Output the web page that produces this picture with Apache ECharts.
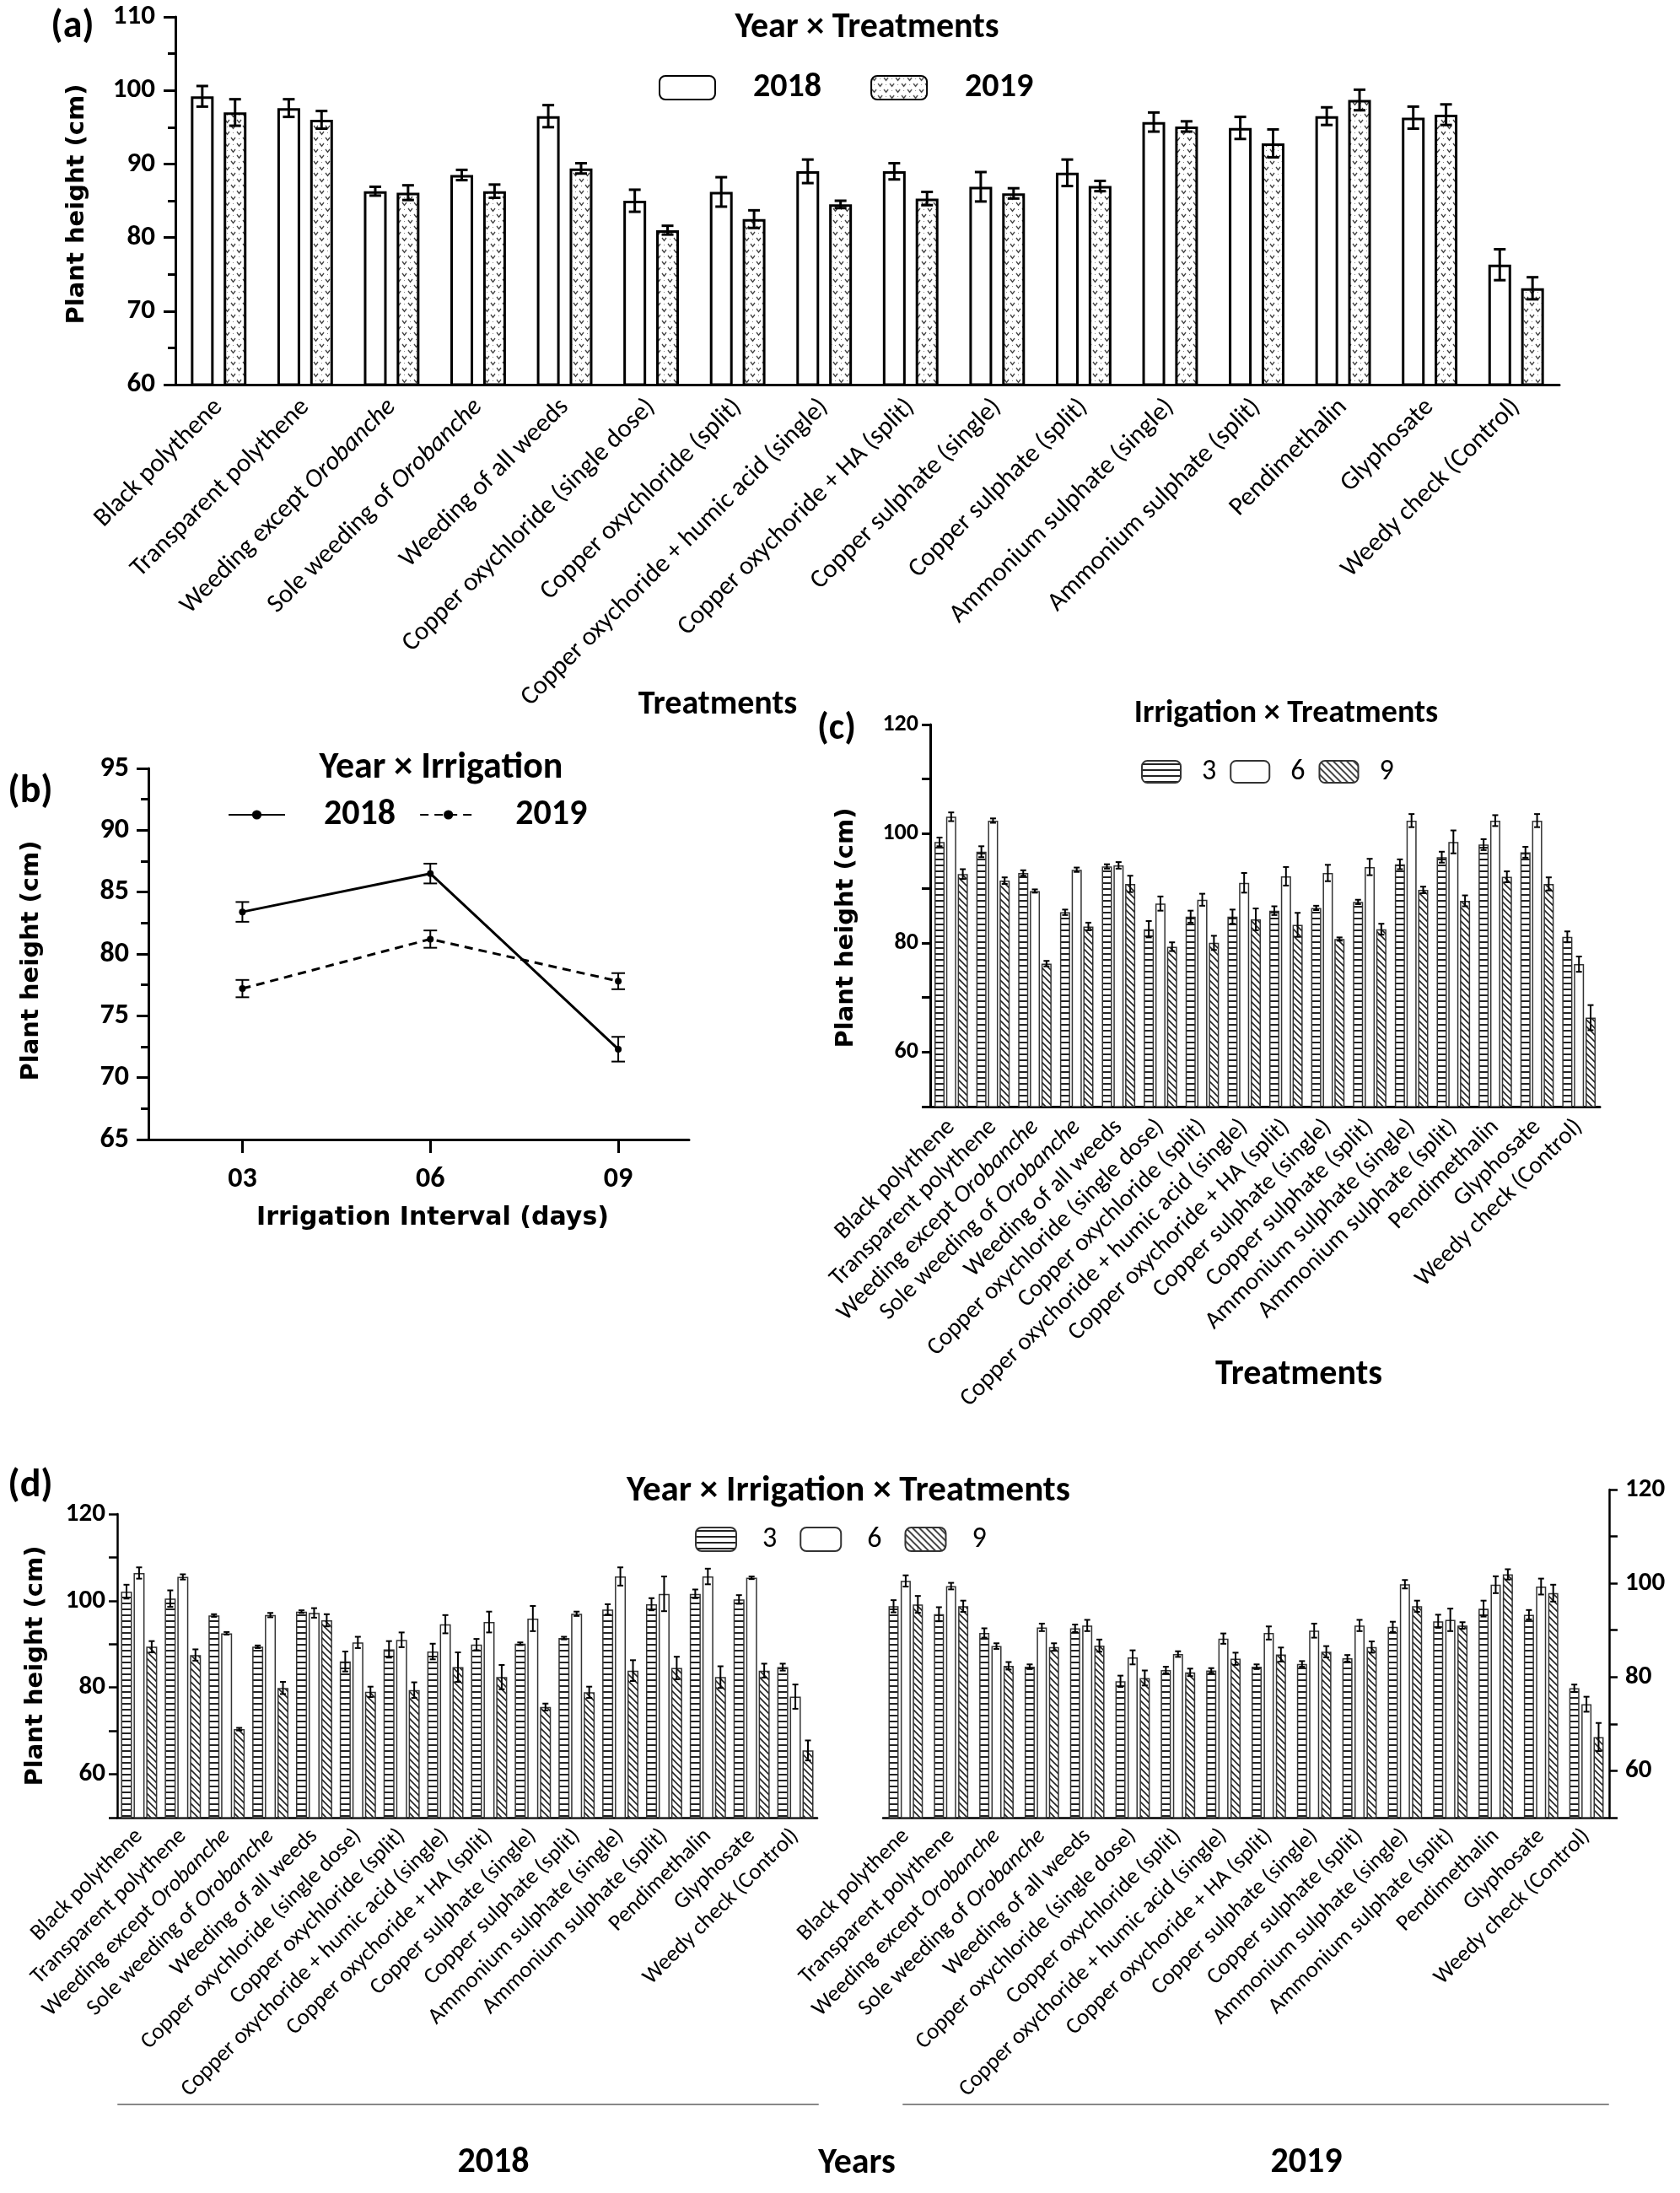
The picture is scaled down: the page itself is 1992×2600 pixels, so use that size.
<!DOCTYPE html>
<html><head><meta charset="utf-8">
<script src="https://cdn.jsdelivr.net/npm/echarts@6/dist/echarts.min.js"></script>
<style>html,body{margin:0;padding:0;background:#fff}#c{width:1992px;height:2600px}</style>
</head><body><div id="c"></div>
<script>
// ---------------- DATA ----------------
const treatments = ['Black polythene','Transparent polythene','Weeding except Orobanche','Sole weeding of Orobanche','Weeding of all weeds','Copper oxychloride (single dose)','Copper oxychloride (split)','Copper oxychoride + humic acid (single)','Copper oxychoride + HA (split)','Copper sulphate (single)','Copper sulphate (split)','Ammonium sulphate (single)','Ammonium sulphate (split)','Pendimethalin','Glyphosate','Weedy check (Control)'];
const years = ['2018','2019'];
// (a) Year x Treatments
const a2018 = [99.2,97.6,86.3,88.5,96.5,85.0,86.2,89.0,89.0,86.9,88.8,95.7,94.9,96.5,96.3,76.3];
const a2018Err = [1.4,1.2,0.6,0.7,1.5,1.5,2.0,1.6,1.1,2.0,1.8,1.3,1.5,1.2,1.5,2.1];
const a2019 = [97.0,96.0,86.1,86.3,89.4,81.0,82.5,84.5,85.3,86.0,87.0,95.1,92.8,98.7,96.7,73.1];
const a2019Err = [1.8,1.2,1.0,0.9,0.7,0.6,1.2,0.5,0.9,0.7,0.7,0.7,1.9,1.4,1.4,1.5];
// (b) Year x Irrigation
const irrigDays = [3,6,9];
const irrigLabels = ['03','06','09'];
const b2018 = [83.4,86.5,72.3];
const b2018Err = [0.8,0.8,1.0];
const b2019 = [77.2,81.2,77.8];
const b2019Err = [0.7,0.7,0.65];
// (c) Irrigation x Treatments
const irrigLevels = ['3','6','9'];
const c3 = [98.5,96.7,92.8,85.6,94.0,82.5,84.8,84.8,85.9,86.4,87.5,94.4,95.7,98.0,96.6,81.1];
const c6 = [103.1,102.4,89.5,93.4,94.2,87.2,87.9,91.0,92.2,92.8,93.9,102.4,98.5,102.4,102.4,76.1];
const c9 = [92.6,91.4,76.2,83.0,90.8,79.3,80.0,84.3,83.3,80.7,82.5,89.7,87.7,92.1,90.8,66.3];
const c3Err = [0.8,1.0,0.5,0.5,0.4,1.5,1.1,1.3,0.8,0.4,0.4,0.9,1.0,1.0,1.0,1.0];
const c6Err = [0.8,0.4,0.3,0.4,0.6,1.3,1.1,1.8,1.7,1.5,1.5,1.2,2.1,1.0,1.2,1.4];
const c9Err = [0.9,0.6,0.5,0.7,1.5,0.8,1.3,2.0,2.2,0.3,1.0,0.6,1.0,1.0,1.2,2.3];
// (d) Year x Irrigation x Treatments
const d2018_3 = [102.1,100.5,96.6,89.4,97.5,86.0,88.8,88.3,89.9,90.1,91.4,98.0,99.2,101.6,100.3,84.7];
const d2018_6 = [106.4,105.5,92.5,96.7,97.2,90.4,91.0,94.6,95.1,95.9,97.0,105.6,101.6,105.6,105.3,77.9];
const d2018_9 = [89.4,87.5,70.4,79.9,95.5,79.0,79.4,84.7,82.4,75.5,78.9,83.9,84.5,82.4,83.9,65.5];
const d2018_3Err = [1.6,1.9,0.3,0.3,0.3,2.3,1.9,1.8,1.3,0.3,0.3,1.2,1.4,1.0,1.0,0.8];
const d2018_6Err = [1.3,0.6,0.3,0.5,1.1,1.3,1.7,2.1,2.4,2.9,0.5,2.1,4.0,1.8,0.3,2.8];
const d2018_9Err = [1.3,1.3,0.3,1.4,1.4,1.2,1.8,3.4,2.8,0.8,1.3,2.4,2.6,2.5,1.6,2.3];
const d2019_3 = [95.1,93.4,89.4,82.2,90.4,79.1,81.5,81.4,82.2,82.8,84.0,90.7,91.9,94.6,93.3,77.6];
const d2019_6 = [100.5,99.4,86.6,90.6,91.0,84.2,84.9,88.2,89.4,89.9,91.0,99.8,92.2,99.7,99.3,74.2];
const d2019_9 = [95.5,95.1,82.4,86.4,86.7,79.8,81.0,83.9,84.8,85.4,86.4,95.1,91.0,101.9,97.9,67.2];
const d2019_3Err = [1.3,1.5,1.0,0.5,0.8,1.2,0.7,0.5,0.5,0.6,0.7,1.1,1.4,1.7,1.0,0.8];
const d2019_6Err = [1.2,0.7,0.6,0.8,1.2,1.5,0.6,1.1,1.4,1.5,1.2,0.9,2.4,1.8,1.7,1.6];
const d2019_9Err = [1.8,1.2,0.8,0.8,1.3,1.6,0.8,1.3,1.5,1.2,1.2,1.2,0.7,1.1,1.8,3.0];

// ---------------- FONTS ----------------
function hasFont(f){
  const g=document.createElement('canvas').getContext('2d');
  const t='Black polythene 0123 WMmi';
  g.font='40px monospace'; const a=g.measureText(t).width;
  g.font='40px "'+f+'", monospace'; const b=g.measureText(t).width;
  return Math.abs(a-b)>0.5;
}
const FN = ['Carlito','Liberation Sans Narrow'].find(hasFont) || 'Liberation Sans';
const K = FN==='Carlito' ? 1 : (FN==='Liberation Sans Narrow' ? 1.04 : 0.86);
const s = n => Math.round(n*K);
const FW = 'DejaVu Sans';

// ---------------- PATTERNS ----------------
function mk(w,h,draw){const c=document.createElement('canvas');c.width=w;c.height=h;const g=c.getContext('2d');g.fillStyle='#fff';g.fillRect(0,0,w,h);draw(g);return c;}
const patH = mk(8,7,g=>{g.fillStyle='#222';g.fillRect(0,3,8,2);});
const patD = mk(8,8,g=>{g.strokeStyle='#222';g.lineWidth=1.6;g.beginPath();g.moveTo(-2,-2);g.lineTo(10,10);g.moveTo(-2,6);g.lineTo(2,10);g.moveTo(6,-2);g.lineTo(10,2);g.stroke();});
const patV = mk(14,14,g=>{g.strokeStyle='#444';g.lineWidth=1.3;const v=(x,y)=>{g.beginPath();g.moveTo(x-2.5,y-2);g.lineTo(x,y+1.5);g.lineTo(x+2.5,y-2);g.stroke();};v(3.5,4);v(10.5,11);g.fillStyle='#888';g.fillRect(10,3,1,1);g.fillRect(3,10,1,1);});
const P = c => ({image:c, repeat:'repeat'});

// ---------------- HELPERS ----------------
const labelFmt = v => v.replace('Orobanche','{i|Orobanche}');
function catAxis(gi, fs, tickLen, lw){
  return {type:'category', gridIndex:gi, data:treatments, boundaryGap:true,
    axisLine:{lineStyle:{color:'#000', width:lw}},
    axisTick:{alignWithLabel:true, length:tickLen, lineStyle:{color:'#000', width:lw}},
    axisLabel:{interval:0, rotate:45, margin:tickLen+6, color:'#000', fontFamily:FN, fontSize:s(fs), formatter:labelFmt,
      rich:{i:{fontStyle:'italic', fontFamily:FN, fontSize:s(fs), color:'#000'}}},
    splitLine:{show:false}};
}
function valAxis(gi, min, max, interval, fs, margin, lw, opts){
  return Object.assign({type:'value', gridIndex:gi, min, max, interval,
    axisLine:{show:true, lineStyle:{color:'#000', width:lw}},
    axisTick:{show:true, length:14, lineStyle:{color:'#000', width:lw}},
    axisLabel:{color:'#000', fontFamily:FN, fontWeight:'bold', fontSize:s(fs), margin},
    splitLine:{show:false}}, opts||{});
}
function bracketAxis(gi, label, shift){
  return {type:'category', gridIndex:gi, data:[label], position:'bottom',
    axisLine:{lineStyle:{color:'#888', width:2}}, axisTick:{length:9, lineStyle:{color:'#888', width:2}},
    axisLabel:{margin:48, color:'#000', fontFamily:FN, fontWeight:'bold', fontSize:s(42), padding:[0,0,0,shift]}};
}
function errSeries(xi, yi, vals, errs, idx, n, bw, gap, cap, lw, xs){
  return {type:'custom', xAxisIndex:xi, yAxisIndex:yi, z:5, silent:true,
    encode:{x:0, y:1},
    data: vals.map((v,i)=>[xs ? xs[i] : i, v, errs[i]]),
    renderItem(params, api){
      const x0=api.value(0), v=api.value(1), e=api.value(2);
      const off=(idx-(n-1)/2)*bw*(1+gap);
      const t=api.coord([x0, v+e]), b=api.coord([x0, v-e]);
      const x=t[0]+off;
      const st={stroke:'#000', lineWidth:lw};
      return {type:'group', children:[
        {type:'line', shape:{x1:x,y1:t[1],x2:x,y2:b[1]}, style:st},
        {type:'line', shape:{x1:x-cap,y1:t[1],x2:x+cap,y2:t[1]}, style:st},
        {type:'line', shape:{x1:x-cap,y1:b[1],x2:x+cap,y2:b[1]}, style:st}]};
    }};
}
function bar(name, xi, yi, data, color, bw, gap, bc, bwid){
  return {name, type:'bar', xAxisIndex:xi, yAxisIndex:yi, data, barWidth:bw, barGap:gap,
    itemStyle:{color, borderColor:bc, borderWidth:bwid}, emphasis:{disabled:true}};
}
function txt(text, x, y, size, family, weight, rot){
  return {type:'text', x, y, rotation:rot||0, style:{text, fill:'#000', fontSize:size, fontFamily:family, fontWeight:weight||'normal', align:'center', verticalAlign:'middle'}};
}

// ---------------- OPTION ----------------
const lg = (data, left, top, iw, ih, gap, fs, pad, bold) => ({data, left, top, itemWidth:iw, itemHeight:ih, itemGap:gap, selectedMode:false,
  formatter: n => n.slice(1), textStyle:{fontFamily:FN, fontWeight:bold?'bold':'normal', fontSize:s(fs), color:'#000', padding:[0,0,0,pad]}});

const cLab = v => (v%20===0 && v>=60) ? String(v) : '';
const option = {
  animation:false, backgroundColor:'#fff',
  grid:[
    {left:208, top:20, width:1641, height:436, outerBoundsMode:'none'},
    {left:176, top:911, width:641, height:440, outerBoundsMode:'none'},
    {left:1103, top:859, width:794, height:453, outerBoundsMode:'none'},
    {left:139, top:1795, width:830, height:360, outerBoundsMode:'none'},
    {left:1047, top:1766, width:861, height:389, outerBoundsMode:'none'},
    {left:140, top:2494, width:830, height:1, outerBoundsMode:'none'},
    {left:1071, top:2494, width:836, height:1, outerBoundsMode:'none'}
  ],
  xAxis:[
    catAxis(0, 31, 16, 3),
    {type:'value', gridIndex:1, min:1.5, max:10.13,
      axisLine:{lineStyle:{color:'#000', width:3}},
      axisTick:{customValues:irrigDays, length:16, lineStyle:{color:'#000', width:3}},
      axisLabel:{customValues:irrigDays, formatter:v=>irrigLabels[irrigDays.indexOf(v)], margin:30, color:'#000', fontFamily:FN, fontWeight:'bold', fontSize:s(34)},
      splitLine:{show:false}},
    catAxis(2, 29, 14, 3),
    catAxis(3, 27, 12, 2.5),
    catAxis(4, 27, 12, 2.5),
    bracketAxis(5, years[0], 60),
    bracketAxis(6, years[1], 120)
  ],
  yAxis:[
    valAxis(0, 60, 110, 10, 33, 24, 3, {minorTick:{show:true, splitNumber:2, length:9, lineStyle:{color:'#000', width:3}}}),
    valAxis(1, 65, 95, 5, 34, 23, 3, {minorTick:{show:true, splitNumber:2, length:9, lineStyle:{color:'#000', width:3}}}),
    valAxis(2, 50, 120, 10, 28, 14, 3, {axisTick:{show:true, length:10, lineStyle:{color:'#000', width:3}}, axisLabel:{color:'#000', fontFamily:FN, fontWeight:'bold', fontSize:s(28), margin:14, formatter:cLab}}),
    valAxis(3, 50, 120, 10, 31, 14, 2.5, {axisTick:{show:true, length:10, lineStyle:{color:'#000', width:2.5}}, axisLabel:{color:'#000', fontFamily:FN, fontWeight:'bold', fontSize:s(31), margin:14, formatter:cLab}}),
    valAxis(4, 50, 120, 10, 31, 19, 2.5, {position:'right', axisTick:{show:true, length:10, lineStyle:{color:'#000', width:2.5}}, axisLabel:{color:'#000', fontFamily:FN, fontWeight:'bold', fontSize:s(31), margin:19, formatter:cLab}}),
    {type:'value', gridIndex:5, show:false},
    {type:'value', gridIndex:6, show:false}
  ],
  legend:[
    lg(['a2018','a2019'], 776, 79, 66, 28, 58, 40, 40, true),
    lg(['b2018','b2019'], 265, 940, 67, 14, 28, 42, 41, true),
    lg(['c3','c6','c9'], 1348, 893, 46, 26, 16, 34, 20, false),
    lg(['d3','d6','d9'], 819, 1803, 48, 28, 27, 34, 26, false)
  ],
  series:[
    // (a)
    bar('a2018', 0, 0, a2018, '#fff', 27, '44%', '#000', 3),
    bar('a2019', 0, 0, a2019, P(patV), 27, '44%', '#000', 3),
    errSeries(0,0,a2018,a2018Err,0,2,27,0.44,7,3),
    errSeries(0,0,a2019,a2019Err,1,2,27,0.44,7,3),
    // (b)
    {name:'b2018', type:'line', xAxisIndex:1, yAxisIndex:1, data:irrigDays.map((d,i)=>[d,b2018[i]]),
      symbol:'circle', symbolSize:8, itemStyle:{color:'#000'}, lineStyle:{color:'#000', width:3, type:'solid'}},
    {name:'b2019', type:'line', xAxisIndex:1, yAxisIndex:1, data:irrigDays.map((d,i)=>[d,b2019[i]]),
      symbol:'circle', symbolSize:8, itemStyle:{color:'#000'}, lineStyle:{color:'#000', width:3, type:[10,7]}},
    errSeries(1,1,b2018,b2018Err,0,1,0,0,8,2,irrigDays),
    errSeries(1,1,b2019,b2019Err,0,1,0,0,8,2,irrigDays),
    // (c)
    bar('c3', 2, 2, c3, P(patH), 12, '15%', '#333', 1.5),
    bar('c6', 2, 2, c6, '#fff', 12, '15%', '#333', 1.5),
    bar('c9', 2, 2, c9, P(patD), 12, '15%', '#333', 1.5),
    errSeries(2,2,c3,c3Err,0,3,12,0.15,3.5,2),
    errSeries(2,2,c6,c6Err,1,3,12,0.15,3.5,2),
    errSeries(2,2,c9,c9Err,2,3,12,0.15,3.5,2),
    // (d) 2018
    bar('d3', 3, 3, d2018_3, P(patH), 13, '15%', '#333', 1.5),
    bar('d6', 3, 3, d2018_6, '#fff', 13, '15%', '#333', 1.5),
    bar('d9', 3, 3, d2018_9, P(patD), 13, '15%', '#333', 1.5),
    errSeries(3,3,d2018_3,d2018_3Err,0,3,13,0.15,3.5,2),
    errSeries(3,3,d2018_6,d2018_6Err,1,3,13,0.15,3.5,2),
    errSeries(3,3,d2018_9,d2018_9Err,2,3,13,0.15,3.5,2),
    // (d) 2019
    bar('d3', 4, 4, d2019_3, P(patH), 12, '20%', '#333', 1.5),
    bar('d6', 4, 4, d2019_6, '#fff', 12, '20%', '#333', 1.5),
    bar('d9', 4, 4, d2019_9, P(patD), 12, '20%', '#333', 1.5),
    errSeries(4,4,d2019_3,d2019_3Err,0,3,12,0.2,3.5,2),
    errSeries(4,4,d2019_6,d2019_6Err,1,3,12,0.2,3.5,2),
    errSeries(4,4,d2019_9,d2019_9Err,2,3,12,0.2,3.5,2)
  ],
  graphic:[
    txt('(a)', 86, 32, s(46), FN, 'bold'),
    txt('Year × Treatments', 1028, 33, s(42), FN, 'bold'),
    txt('Plant height (cm)', 91, 242, 29, FW, 'bold', Math.PI/2),
    txt('Treatments', 851, 836, s(40), FN, 'bold'),
    txt('(b)', 36, 939, s(46), FN, 'bold'),
    txt('Year × Irrigation', 523, 911, s(44), FN, 'bold'),
    txt('Plant height (cm)', 37, 1139, 29, FW, 'bold', Math.PI/2),
    txt('Irrigation Interval (days)', 513, 1444, 30, FW, 'bold'),
    txt('(c)', 992, 865, s(44), FN, 'bold'),
    txt('Irrigation × Treatments', 1525, 846, s(38), FN, 'bold'),
    txt('Plant height (cm)', 1003, 1100, 29, FW, 'bold', Math.PI/2),
    txt('Treatments', 1540, 1630, s(42), FN, 'bold'),
    txt('(d)', 36, 1762, s(46), FN, 'bold'),
    txt('Year × Irrigation × Treatments', 1006, 1768, s(43), FN, 'bold'),
    txt('Plant height (cm)', 42, 1975, 29, FW, 'bold', Math.PI/2),
    txt('Years', 1016, 2565, s(42), FN, 'bold')
  ]
};
const chart = echarts.init(document.getElementById('c'), null, {renderer:'canvas', width:1992, height:2600});
chart.setOption(option);
</script></body></html>
